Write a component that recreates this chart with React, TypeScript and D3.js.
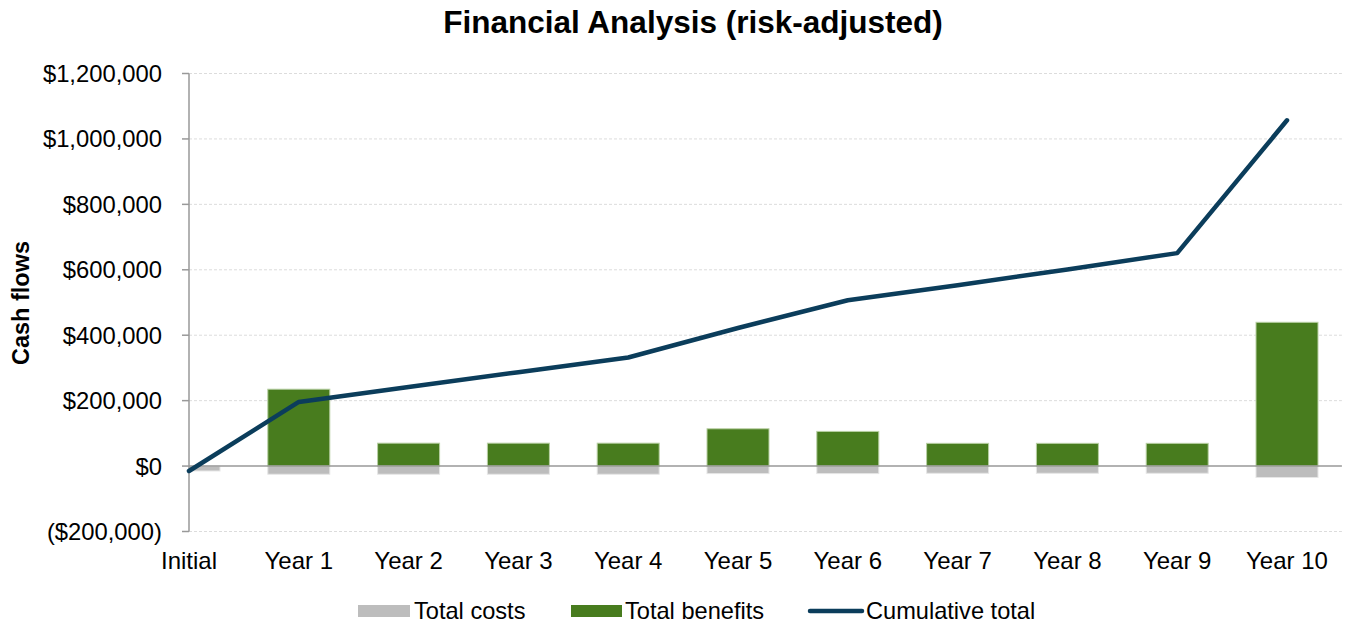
import React from 'react';
import * as d3 from 'd3';

const categories = ['Initial', 'Year 1', 'Year 2', 'Year 3', 'Year 4', 'Year 5', 'Year 6', 'Year 7', 'Year 8', 'Year 9', 'Year 10'];
const totalCosts = [-15000, -25000, -25000, -25000, -25000, -23000, -23000, -22000, -22000, -22000, -35000];
const totalBenefits = [0, 235000, 70000, 70000, 70000, 114000, 106000, 69500, 69500, 69500, 439500];
const cumulativeTotal = [-15000, 196000, 242000, 287000, 332000, 422000, 507000, 553000, 601000, 651000, 1057000];
const yTicks = [-200000, 0, 200000, 400000, 600000, 800000, 1000000, 1200000];

const W = 1346;
const H = 626;
const FONT = 'Liberation Sans, Arial, sans-serif';

export default function App() {
  // first category sits on the y axis, last one gets half a step of room
  const left = 189;
  const step = 109.8;
  const right = left + step * (categories.length - 1) + step / 2;
  const x = d3.scalePoint<string>()
    .domain(categories)
    .range([left, left + step * (categories.length - 1)]);
  const y = d3.scaleLinear().domain([-200000, 1200000]).range([531.5, 73.5]);
  const barW = 62;

  const fmt = (v: number) => {
    const s = '$' + d3.format(',')(Math.abs(v));
    return v < 0 ? `(${s})` : s;
  };

  const line = d3.line<number>()
    .x((_, i) => x(categories[i]) as number)
    .y(d => y(d));

  return (
    <svg width={W} height={H} style={{ position: 'absolute', left: 0, top: 0 }} fontFamily={FONT}>
      <defs>
        <clipPath id="plot">
          <rect x={left} y={60} width={right - left} height={480} />
        </clipPath>
      </defs>

      <text x={693} y={33} textAnchor="middle" fontSize={31.5} fontWeight="bold" fill="#000">
        Financial Analysis (risk-adjusted)
      </text>

      {/* gridlines */}
      {yTicks.filter(t => t !== 0).map(t => (
        <line key={t} x1={left} x2={right} y1={y(t)} y2={y(t)} stroke="#dcdcdc" strokeDasharray="3,2" strokeWidth={1} />
      ))}

      {/* bars */}
      <g clipPath="url(#plot)">
        {categories.map((c, i) => (
          <g key={c}>
            <rect
              x={(x(c) as number) - barW / 2}
              y={y(0)}
              width={barW}
              height={y(totalCosts[i]) - y(0)}
              fill="#bdbdbd"
              stroke="#e6e6e6"
              strokeWidth={1}
            />
            {totalBenefits[i] > 0 && (
              <rect
                x={(x(c) as number) - barW / 2}
                y={y(totalBenefits[i])}
                width={barW}
                height={y(0) - y(totalBenefits[i])}
                fill="#487c1e"
                stroke="#b9d0a4"
                strokeWidth={1}
              />
            )}
          </g>
        ))}
      </g>

      {/* zero line */}
      <line x1={left} x2={right} y1={y(0)} y2={y(0)} stroke="#999" strokeWidth={1.5} />

      {/* y axis */}
      <line x1={left} x2={left} y1={y(1200000)} y2={y(-200000)} stroke="#999" strokeWidth={1.5} />
      {yTicks.map(t => (
        <g key={t}>
          <line x1={left - 7} x2={left} y1={y(t)} y2={y(t)} stroke="#999" strokeWidth={1.5} />
          <text x={162} y={y(t)} dy="0.36em" textAnchor="end" fontSize={23.8} fill="#000">{fmt(t)}</text>
        </g>
      ))}

      <text transform={`translate(29,${303}) rotate(-90)`} textAnchor="middle" fontSize={23.5} fontWeight="bold" fill="#000">
        Cash flows
      </text>

      {/* cumulative line */}
      <path d={line(cumulativeTotal) || ''} fill="none" stroke="#0b3d5b" strokeWidth={4.5} strokeLinejoin="round" strokeLinecap="round" />

      {/* x labels */}
      {categories.map(c => (
        <text key={c} x={x(c) as number} y={569} textAnchor="middle" fontSize={24} fill="#000">{c}</text>
      ))}

      {/* legend */}
      <g fontSize={23.6} fill="#000">
        <rect x={358} y={605} width={52} height={12} fill="#bdbdbd" />
        <text x={414} y={619}>Total costs</text>
        <rect x={571} y={605} width={51} height={12} fill="#487c1e" />
        <text x={625} y={619}>Total benefits</text>
        <line x1={810} x2={862} y1={611} y2={611} stroke="#0b3d5b" strokeWidth={4.5} strokeLinecap="round" />
        <text x={866} y={619}>Cumulative total</text>
      </g>
    </svg>
  );
}
